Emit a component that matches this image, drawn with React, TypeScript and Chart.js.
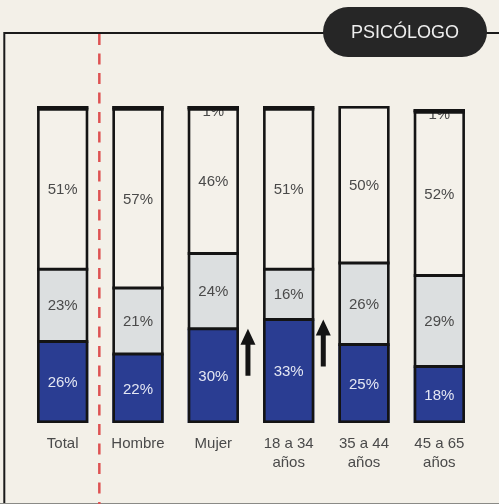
import React, { useEffect, useRef } from "react";
import { Chart, registerables } from "chart.js";

Chart.register(...registerables);

const categories: string[][] = [["Total"], ["Hombre"], ["Mujer"], ["18 a 34", "años"], ["35 a 44", "años"], ["45 a 65", "años"]];
const blueValues = [26, 22, 30, 33, 25, 18];
const greyValues = [23, 21, 24, 16, 26, 29];
const beigeValues = [51, 57, 46, 51, 50, 52];
const blackValues = [1, 1, 1, 1, 0, 1];
const blackLabels = ["", "", "1%", "", "", "1%"];
const arrowCategories = [2, 3];
const badgeText = "PSICÓLOGO";

const BG = "#f3f0e8";
const BLUE = "#2a3d92";
const GREY = "#dcdfe0";
const BEIGE = "#f4f1ea";
const INK = "#141414";
const FONT = "'Liberation Sans', Arial, sans-serif";

const decorPlugin = {
  id: "decor",
  beforeDraw(chart: any) {
    const ctx = chart.ctx;
    const W = chart.width;
    const H = chart.height;
    ctx.save();
    ctx.fillStyle = BG;
    ctx.fillRect(0, 0, W, H);
    ctx.strokeStyle = "#1a1a1a";
    ctx.lineWidth = 2;
    ctx.beginPath();
    ctx.moveTo(4.3, H);
    ctx.lineTo(4.3, 33);
    ctx.lineTo(W, 33);
    ctx.stroke();
    ctx.strokeStyle = "#8a8a86";
    ctx.lineWidth = 1;
    ctx.beginPath();
    ctx.moveTo(0, H - 0.5);
    ctx.lineTo(W, H - 0.5);
    ctx.stroke();
    const xs = chart.scales.x;
    const xSep = (xs.getPixelForValue(0) + xs.getPixelForValue(1)) / 2 - 1;
    ctx.strokeStyle = "#de5252";
    ctx.lineWidth = 2.5;
    ctx.setLineDash([11, 8.5]);
    ctx.beginPath();
    ctx.moveTo(xSep, 34);
    ctx.lineTo(xSep, H);
    ctx.stroke();
    ctx.setLineDash([]);
    ctx.restore();
  },
  afterDatasetsDraw(chart: any) {
    const ctx = chart.ctx;
    const metas = [0, 1, 2, 3].map((i) => chart.getDatasetMeta(i));
    const valueSets = [blueValues, greyValues, beigeValues, blackValues];
    ctx.save();
    ctx.textAlign = "center";
    ctx.textBaseline = "middle";
    ctx.font = `15px ${FONT}`;
    for (let i = 0; i < categories.length; i++) {
      for (let d = 0; d < 3; d++) {
        const el = metas[d].data[i];
        const v = valueSets[d][i];
        ctx.fillStyle = d === 0 ? "#e4e7f3" : "#4a4a4a";
        ctx.fillText(`${v}%`, el.x, (el.y + el.base) / 2 + 1);
      }
      if (blackLabels[i]) {
        const el = metas[3].data[i];
        ctx.fillStyle = "#4a4a4a";
        ctx.fillText(blackLabels[i], el.x, el.y + 6);
        ctx.fillStyle = INK;
        ctx.fillRect(el.x - el.width / 2, el.y, el.width, el.base - el.y);
      }
    }
    ctx.strokeStyle = INK;
    for (let i = 0; i < categories.length; i++) {
      const b = metas[0].data[i];
      const left = b.x - b.width / 2;
      const w = b.width;
      let top = b.base;
      const bounds: number[] = [];
      for (let d = 0; d < 4; d++) {
        if (valueSets[d][i] > 0) {
          const el = metas[d].data[i];
          top = el.y;
          bounds.push(el.y);
        }
      }
      bounds.pop();
      ctx.lineWidth = 3;
      for (const y of bounds) {
        ctx.beginPath();
        ctx.moveTo(left, y);
        ctx.lineTo(left + w, y);
        ctx.stroke();
      }
      ctx.lineWidth = 2.6;
      ctx.strokeRect(left + 1.3, top + 1.3, w - 2.6, b.base - top - 2.6);
    }
    ctx.fillStyle = INK;
    for (const i of arrowCategories) {
      const el = metas[0].data[i];
      const cx = el.x + el.width / 2 + 9;
      const tip = el.y;
      const len = 47;
      const headH = 16;
      const headW = 15;
      const shaft = 5;
      ctx.beginPath();
      ctx.moveTo(cx, tip);
      ctx.lineTo(cx + headW / 2, tip + headH);
      ctx.lineTo(cx + shaft / 2, tip + headH);
      ctx.lineTo(cx + shaft / 2, tip + len);
      ctx.lineTo(cx - shaft / 2, tip + len);
      ctx.lineTo(cx - shaft / 2, tip + headH);
      ctx.lineTo(cx - headW / 2, tip + headH);
      ctx.closePath();
      ctx.fill();
    }
    ctx.restore();
  },
  afterDraw(chart: any) {
    const ctx = chart.ctx;
    ctx.save();
    const x0 = 323, y0 = 7, x1 = 487, y1 = 57;
    const r = (y1 - y0) / 2;
    ctx.fillStyle = "#262626";
    ctx.beginPath();
    ctx.moveTo(x0 + r, y0);
    ctx.lineTo(x1 - r, y0);
    ctx.arc(x1 - r, y0 + r, r, -Math.PI / 2, Math.PI / 2);
    ctx.lineTo(x0 + r, y1);
    ctx.arc(x0 + r, y0 + r, r, Math.PI / 2, (3 * Math.PI) / 2);
    ctx.closePath();
    ctx.fill();
    ctx.fillStyle = "#eeeeee";
    ctx.font = `18px ${FONT}`;
    ctx.textAlign = "center";
    ctx.textBaseline = "middle";
    ctx.fillText(badgeText, 405, 33);
    ctx.restore();
  },
};

export default function App() {
  const ref = useRef<HTMLCanvasElement | null>(null);
  useEffect(() => {
    if (!ref.current) return;
    const mk = (label: string, data: number[], color: string) => ({
      label,
      data,
      backgroundColor: color,
      borderWidth: 0,
      barPercentage: 0.85,
      categoryPercentage: 0.8,
    });
    const chart = new Chart(ref.current, {
      type: "bar",
      data: {
        labels: categories,
        datasets: [
          mk("blue", blueValues, BLUE),
          mk("grey", greyValues, GREY),
          mk("beige", beigeValues, BEIGE),
          mk("black", blackValues, INK),
        ],
      },
      options: {
        responsive: false,
        animation: false,
        events: [],
        layout: { padding: { left: 25, right: 22, top: 106, bottom: 20 } },
        plugins: { legend: { display: false }, tooltip: { enabled: false } },
        scales: {
          x: {
            stacked: true,
            grid: { display: false, drawTicks: false },
            border: { display: false },
            ticks: {
              padding: 11,
              color: "#4a4a4a",
              font: { family: FONT, size: 15, lineHeight: 1.3 },
              maxRotation: 0,
              autoSkip: false,
            },
          },
          y: { stacked: true, display: false, min: 0, max: 101 },
        },
      },
      plugins: [decorPlugin],
    });
    return () => chart.destroy();
  }, []);
  return (
    <div style={{ position: "fixed", left: 0, top: 0, width: 499, height: 504, background: BG }}>
      <canvas ref={ref} width={499} height={504} style={{ display: "block", width: 499, height: 504 }} />
    </div>
  );
}
